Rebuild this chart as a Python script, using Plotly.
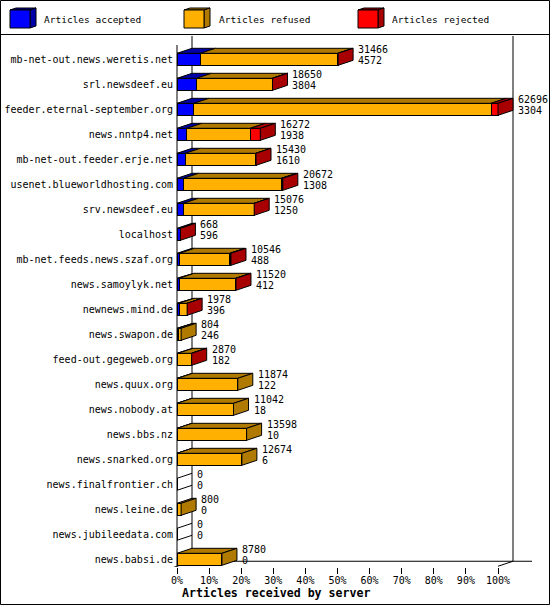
import plotly.graph_objects as go

# ---------------- data ----------------
servers = [
    "mb-net-out.news.weretis.net", "srl.newsdeef.eu", "feeder.eternal-september.org",
    "news.nntp4.net", "mb-net-out.feeder.erje.net", "usenet.blueworldhosting.com",
    "srv.newsdeef.eu", "localhost", "mb-net.feeds.news.szaf.org", "news.samoylyk.net",
    "newnews.mind.de", "news.swapon.de", "feed-out.gegeweb.org", "news.quux.org",
    "news.nobody.at", "news.bbs.nz", "news.snarked.org", "news.finalfrontier.ch",
    "news.leine.de", "news.jubileedata.com", "news.babsi.de",
]
offered = [31466, 18650, 62696, 16272, 15430, 20672, 15076, 668, 10546, 11520,
           1978, 804, 2870, 11874, 11042, 13598, 12674, 0, 800, 0, 8780]
accepted = [4572, 3804, 3304, 1938, 1610, 1308, 1250, 596, 488, 412,
            396, 246, 182, 122, 18, 10, 6, 0, 0, 0, 0]
refused = [26854, 14816, 58042, 12384, 13800, 19064, 13806, 20, 9808, 11068,
           1572, 558, 2678, 11752, 11024, 13588, 12668, 0, 800, 0, 8780]
rejected = [40, 30, 1350, 1950, 20, 300, 20, 52, 250, 40,
            10, 0, 10, 0, 0, 0, 0, 0, 0, 0, 0]
series_names = ["Articles accepted", "Articles refused", "Articles rejected"]
x_tick_labels = ["0%", "10%", "20%", "30%", "40%", "50%", "60%", "70%", "80%", "90%", "100%"]
x_title = "Articles received by server"

# ---------------- style ----------------
FRONT = ["#0000FF", "#FFB000", "#FF0000"]
DARK = ["#0000A8", "#B07A00", "#A80000"]
MONO = "DejaVu Sans Mono"

W, H = 550, 605
L, R, T, B = 160, 15, 36, 38
PW, PH = W - L - R, H - T - B
AX0 = 177            # pixel of the 0 value
FULL_PX = 321        # pixel length of 100%
ROW_PX = 25.0
ROW0_PX = 59.3

XMAX = max(offered)
U = XMAX / FULL_PX   # data units per pixel
DX = 15 * U          # 3D depth (x)
DY = 5 / ROW_PX      # 3D depth (rows, upwards)
BW = 0.48            # bar thickness in rows

YTOP = -(ROW0_PX - T) / ROW_PX
YBOT = (H - B - ROW0_PX) / ROW_PX
FLOOR = YBOT - 0.03
FRONT_TOP = (45 - ROW0_PX) / ROW_PX


def px(x):
    return (x - L) / PW


def py(y):
    return (H - B - y) / PH


rows = list(range(len(servers)))
series = [accepted, refused, rejected]

fig = go.Figure()

# front faces (native stacked bars)
for k, vals in enumerate(series):
    fig.add_trace(go.Bar(
        y=rows, x=vals, orientation="h", width=BW, name=series_names[k],
        marker=dict(color=FRONT[k], line=dict(color="black", width=1)),
        showlegend=False, hoverinfo="skip",
    ))

# top and side faces built from data
top_x = [[], [], []]
top_y = [[], [], []]
side_x = [[], [], []]
side_y = [[], [], []]
empty_x, empty_y = [], []
for r in rows:
    x0 = 0
    last = None
    yt, yb = r - BW / 2, r + BW / 2
    for k, vals in enumerate(series):
        v = vals[r]
        if v > 0:
            x1 = x0 + v
            top_x[k] += [x0, x0 + DX, x1 + DX, x1, x0, None]
            top_y[k] += [yt, yt - DY, yt - DY, yt, yt, None]
            x0 = x1
            last = k
    sx = [x0, x0 + DX, x0 + DX, x0, x0, None]
    sy = [yt, yt - DY, yb - DY, yb, yt, None]
    if last is None:
        empty_x += [x0, x0 + DX, None, x0, x0 + DX, None]
        empty_y += [yt, yt - DY, None, yb, yb - DY, None]
    else:
        side_x[last] += sx
        side_y[last] += sy

for k in range(3):
    for xs, ys in ((top_x[k], top_y[k]), (side_x[k], side_y[k])):
        if xs:
            fig.add_trace(go.Scatter(
                x=xs, y=ys, mode="lines", fill="toself", fillcolor=DARK[k],
                line=dict(color="black", width=1), showlegend=False, hoverinfo="skip",
            ))
if empty_x:
    fig.add_trace(go.Scatter(
        x=empty_x, y=empty_y, mode="lines", line=dict(color="black", width=1),
        showlegend=False, hoverinfo="skip",
    ))

# frame (walls / floor) below the bars
line = dict(color="black", width=1)
frame = [
    (DX, YTOP, DX, FLOOR - DY),
    (XMAX + DX, YTOP, XMAX + DX, FLOOR - DY),
    (DX, FLOOR - DY, XMAX + DX + 19 * U, FLOOR - DY),
    (0, FRONT_TOP, 0, FLOOR),
    (XMAX, FLOOR, XMAX + DX, FLOOR - DY),
    (-13 * U, FLOOR + DY * 13 / 15, DX, FLOOR - DY),
]
shapes = []
for x0, y0, x1, y1 in frame:
    shapes.append(dict(type="line", xref="x", yref="y", x0=x0, y0=y0, x1=x1, y1=y1,
                       line=line, layer="below"))

# outer border and legend separator
shapes.append(dict(type="rect", xref="paper", yref="paper", x0=px(0.5), y0=py(0.5),
                   x1=px(W - 0.5), y1=py(H - 0.5), line=line, layer="above"))
shapes.append(dict(type="line", xref="paper", yref="paper", x0=px(0), y0=py(34.5),
                   x1=px(W), y1=py(34.5), line=line, layer="above"))

# legend cubes
annotations = []
cube_x = [10, 184, 358]
text_x = [42, 217, 390]
for k in range(3):
    cx = cube_x[k]
    fx0, fx1, fy0, fy1 = cx, cx + 20, 10, 28
    shapes.append(dict(type="path", xref="paper", yref="paper",
                       path=f"M{px(fx0)},{py(fy0)} L{px(fx0 + 6)},{py(fy0 - 2)} L{px(fx1 + 6)},{py(fy0 - 2)} L{px(fx1)},{py(fy0)} Z",
                       fillcolor=DARK[k], line=line, layer="above"))
    shapes.append(dict(type="path", xref="paper", yref="paper",
                       path=f"M{px(fx1)},{py(fy0)} L{px(fx1 + 6)},{py(fy0 - 2)} L{px(fx1 + 6)},{py(fy1 - 2)} L{px(fx1)},{py(fy1)} Z",
                       fillcolor=DARK[k], line=line, layer="above"))
    shapes.append(dict(type="rect", xref="paper", yref="paper",
                       x0=px(fx0), y0=py(fy0), x1=px(fx1), y1=py(fy1),
                       fillcolor=FRONT[k], line=line, layer="above"))
    annotations.append(dict(xref="paper", yref="paper", x=px(text_x[k]), y=py(19.5),
                            xanchor="left", yanchor="middle", showarrow=False,
                            text=series_names[k], font=dict(family=MONO, size=9.5, color="black")))

# value labels
for r in rows:
    for txt, ys in ((str(offered[r]), 10), (str(accepted[r]), -1)):
        annotations.append(dict(xref="x", yref="y", x=offered[r] + DX, y=r,
                                xanchor="left", yanchor="middle", xshift=3, yshift=ys,
                                showarrow=False, text=txt,
                                font=dict(family=MONO, size=10, color="black")))

# axis title
annotations.append(dict(xref="paper", yref="paper", x=px(180), y=py(593),
                        xanchor="left", yanchor="middle", showarrow=False, text=x_title,
                        font=dict(family=MONO, size=11.6, color="black", weight="bold")))

fig.update_layout(
    width=W, height=H, margin=dict(l=L, r=R, t=T, b=B, pad=0, autoexpand=False),
    paper_bgcolor="white", plot_bgcolor="white",
    barmode="stack", showlegend=False,
    shapes=shapes, annotations=annotations,
    xaxis=dict(range=[-(AX0 - L) * U, (W - R - AX0) * U], automargin=False,
               tickvals=[XMAX * i / 10 for i in range(11)], ticktext=x_tick_labels,
               ticks="outside", ticklen=6, tickwidth=1, tickcolor="black",
               ticklabelstandoff=-2,
               showline=False, showgrid=False, zeroline=False,
               tickfont=dict(family=MONO, size=10, color="black"), fixedrange=True),
    yaxis=dict(range=[YBOT, YTOP], tickvals=rows, ticktext=servers, automargin=False,
               ticks="", showline=False, showgrid=False, zeroline=False,
               ticklabelstandoff=4,
               anchor="free", position=px(AX0),
               tickfont=dict(family=MONO, size=10, color="black"), fixedrange=True),
)

fig.write_html("out.html", config={"displayModeBar": False},
               post_script="document.body.style.margin='0px';")
